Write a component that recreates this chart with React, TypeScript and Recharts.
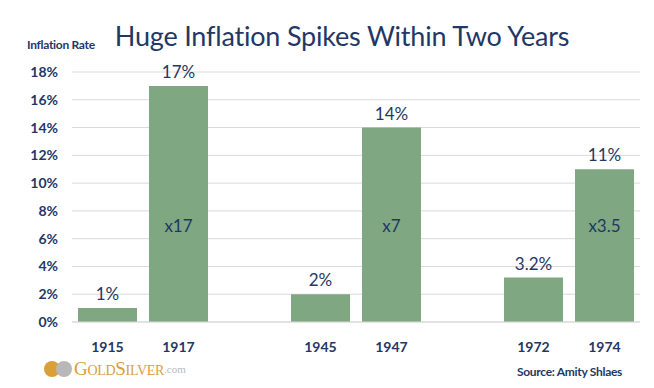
import React from "react";
import { Bar, BarChart, CartesianGrid, LabelList, XAxis, YAxis } from "recharts";

const years = ["1915", "1917", " ", "1945", "1947", "  ", "1972", "1974"];
const rates = [1, 17, null, 2, 14, null, 3.2, 11];
const topLabels = ["1%", "17%", "", "2%", "14%", "", "3.2%", "11%"];
const multipliers = ["", "x17", "", "", "x7", "", "", "x3.5"];
const yTicks = [0, 2, 4, 6, 8, 10, 12, 14, 16, 18];

const navy = "#1F3864";
const green = "#7FA781";
const font = "Lato, 'Open Sans', sans-serif";

const data = years.map((year, i) => ({
  year,
  rate: rates[i],
  top: topLabels[i],
  mult: multipliers[i],
}));

function MultLabel(props: any) {
  const { x, y, width, height, value } = props;
  if (!value) return null;
  return (
    <text
      x={x + width / 2}
      y={y + height - 94}
      textAnchor="middle"
      dominantBaseline="middle"
      fill={navy}
      fontSize={17}
      fontFamily={font}
    >
      {value}
    </text>
  );
}

export default function App() {
  return (
    <div style={{ position: "absolute", left: 0, top: 0, width: 654, height: 388, background: "#fff", fontFamily: font }}>
      <div style={{ position: "absolute", left: 0, top: 19, width: 684, textAlign: "center", fontSize: 27, color: navy, letterSpacing: -0.2 }}>
        Huge Inflation Spikes Within Two Years
      </div>
      <div style={{ position: "absolute", left: 27, top: 37, fontSize: 12, fontWeight: 700, color: navy, letterSpacing: -0.3 }}>
        Inflation Rate
      </div>
      <BarChart width={654} height={388} data={data} margin={{ top: 72, right: 14, bottom: 36, left: 0 }} barCategoryGap={6}>
        <CartesianGrid vertical={false} stroke="#D9D9D9" />
        <XAxis
          dataKey="year"
          height={30}
          axisLine={{ stroke: "#D9D9D9" }}
          tickLine={false}
          tick={{ fill: navy, fontSize: 14, fontWeight: 700, fontFamily: font }}
          tickMargin={14}
        />
        <YAxis
          width={72}
          domain={[0, 18]}
          ticks={yTicks}
          axisLine={false}
          tickLine={false}
          tickMargin={8}
          tickFormatter={(v) => `${v}%`}
          tick={{ fill: navy, fontSize: 14, fontWeight: 700, fontFamily: font }}
        />
        <Bar dataKey="rate" fill={green} isAnimationActive={false}>
          <LabelList dataKey="top" position="top" offset={8} fill={navy} fontSize={17} fontFamily={font} />
          <LabelList dataKey="mult" content={MultLabel} />
        </Bar>
      </BarChart>
      <div style={{ position: "absolute", left: 44, top: 358, display: "flex", alignItems: "center" }}>
        <span style={{ display: "inline-block", width: 16, height: 16, borderRadius: 8, background: "#D9A03A", marginRight: -4 }} />
        <span style={{ display: "inline-block", width: 16, height: 16, borderRadius: 8, background: "#B8B8B8", marginRight: 2 }} />
        <span style={{ fontFamily: "'Liberation Serif', serif", color: "#D9A03A", fontSize: 19, letterSpacing: -0.3 }}>
          G<span style={{ fontSize: 14 }}>OLD</span>
        </span>
        <span style={{ fontFamily: "'Liberation Serif', serif", color: "#D9A03A", fontSize: 19, letterSpacing: -0.3 }}>
          S<span style={{ fontSize: 14 }}>ILVER</span>
        </span>
        <span style={{ fontFamily: "'Liberation Serif', serif", color: "#B8B8B8", fontSize: 11 }}>.com</span>
      </div>
      <div style={{ position: "absolute", left: 517, top: 364, fontSize: 12, fontWeight: 700, color: navy, letterSpacing: -0.3 }}>
        Source: Amity Shlaes
      </div>
    </div>
  );
}
